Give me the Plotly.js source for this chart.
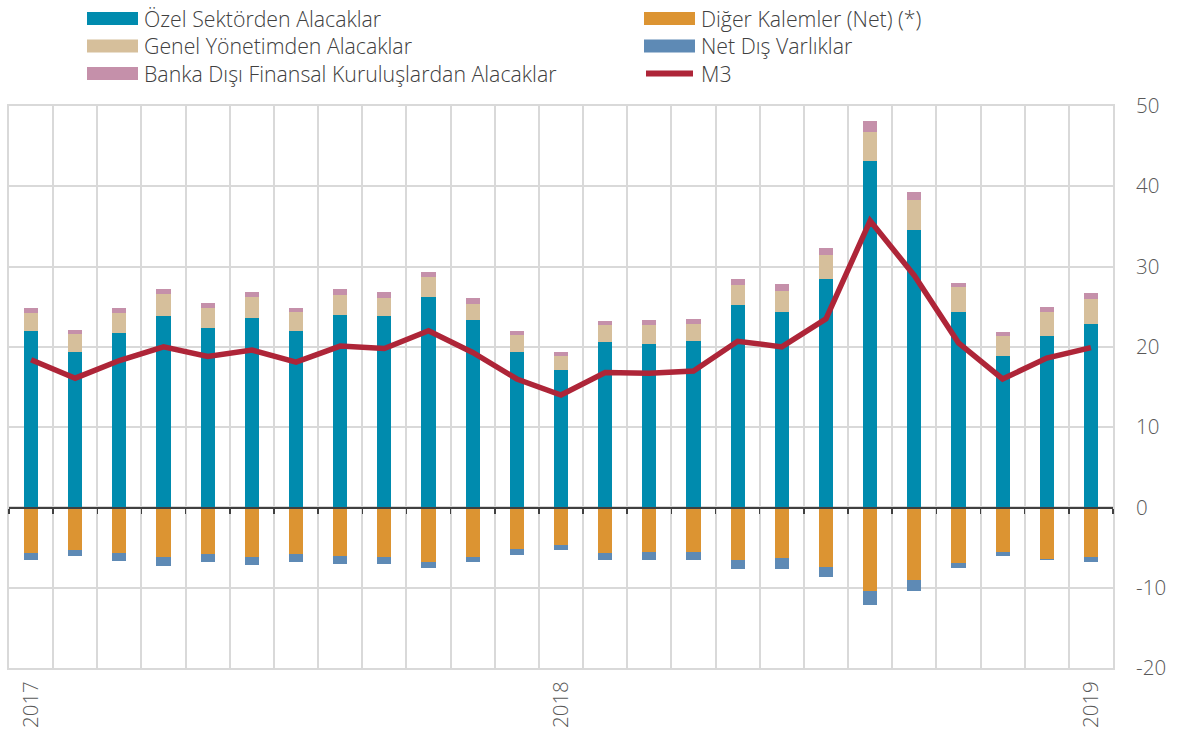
<!DOCTYPE html>
<html><head><meta charset="utf-8">
<script src="https://cdn.plot.ly/plotly-3.0.1.min.js"></script>
<style>html,body{margin:0;padding:0;background:#fff}#chart{width:1181px;height:733px}</style>
</head><body><div id="chart"></div>
<script>
const months = ['2017-01','2017-02','2017-03','2017-04','2017-05','2017-06','2017-07','2017-08','2017-09','2017-10','2017-11','2017-12',
  '2018-01','2018-02','2018-03','2018-04','2018-05','2018-06','2018-07','2018-08','2018-09','2018-10','2018-11','2018-12','2019-01'];
const tickLabels = {'2017-01':'2017','2018-01':'2018','2019-01':'2019'};
const yTickVals = [-20,-10,0,10,20,30,40,50];
const yTickText = ['-20','-10','0','10','20','30','40','50'];

const ozel  = [22.0,19.3,21.7,23.8,22.4,23.6,22.0,24.0,23.8,26.2,23.4,19.4,17.1,20.6,20.4,20.7,25.2,24.3,28.4,43.2,34.6,24.3,18.8,21.4,22.9];
const genel = [2.2,2.3,2.5,2.8,2.4,2.6,2.3,2.5,2.3,2.5,2.0,2.1,1.8,2.1,2.3,2.2,2.5,2.7,3.1,3.6,3.7,3.1,2.5,3.0,3.1];
const banka = [0.6,0.5,0.7,0.6,0.7,0.6,0.6,0.7,0.7,0.6,0.7,0.5,0.4,0.5,0.6,0.6,0.7,0.8,0.8,1.3,1.0,0.6,0.5,0.6,0.7];
const diger = [-5.7,-5.3,-5.7,-6.2,-5.8,-6.2,-5.75,-6.1,-6.2,-6.8,-6.2,-5.2,-4.7,-5.7,-5.6,-5.5,-6.5,-6.3,-7.4,-10.4,-9.1,-6.9,-5.5,-6.4,-6.2];
const netdis = [-0.8,-0.7,-1.0,-1.1,-1.0,-1.0,-1.05,-1.0,-0.8,-0.7,-0.6,-0.7,-0.6,-0.8,-0.9,-1.0,-1.2,-1.4,-1.3,-1.8,-1.3,-0.6,-0.5,-0.2,-0.55];
const m3    = [18.4,16.1,18.3,20.0,18.8,19.6,18.1,20.1,19.8,22.0,19.3,16.0,14.0,16.8,16.7,17.0,20.7,20.0,23.5,35.7,28.9,20.5,16.0,18.6,19.9];

const names = {
  ozel:'Özel Sektörden Alacaklar', genel:'Genel Yönetimden Alacaklar', banka:'Banka Dışı Finansal Kuruluşlardan Alacaklar',
  diger:'Diğer Kalemler (Net) (*)', netdis:'Net Dış Varlıklar', m3:'M3'
};
const colors = {ozel:'#008BAE', genel:'#D6BF9B', banka:'#C590AA', diger:'#DC9432', netdis:'#5E8AB5', m3:'#AE2538'};

const FONT = "'Open Sans', Lato, sans-serif";
const bw = 0.32;
function bar(key, y){ return {type:'bar', name:names[key], x:months, y:y, width:bw, marker:{color:colors[key], line:{width:0}}, hoverinfo:'y+name'}; }
const data = [
  bar('ozel', ozel), bar('diger', diger), bar('genel', genel), bar('netdis', netdis), bar('banka', banka),
  {type:'scatter', mode:'lines', name:names.m3, x:months, y:m3, xaxis:'x2', line:{color:colors.m3, width:5.5}}
];

// layout geometry (pixels)
const W=1181, H=733, mL=9, mR=68, mT=106, mB=65;
const pw = W-mL-mR, ph = H-mT-mB;
const px = v => (v-mL)/pw, py = v => (H-mB-v)/ph;

const legendItems = [
  {key:'ozel', col:0, row:0}, {key:'genel', col:0, row:1}, {key:'banka', col:0, row:2},
  {key:'diger', col:1, row:0}, {key:'netdis', col:1, row:1}, {key:'m3', col:1, row:2}
];
const colX = [87, 644], rowY = [18.5, 46, 73.5], swW = 51, swH = 13;
const shapes = [], annotations = [];
legendItems.forEach(it => {
  const x0 = colX[it.col], yc = rowY[it.row];
  if (it.key === 'm3') {
    shapes.push({type:'line', xref:'paper', yref:'paper', x0:px(x0+2), x1:px(x0+swW-2), y0:py(yc), y1:py(yc),
      line:{color:colors.m3, width:6}});
  } else {
    shapes.push({type:'rect', xref:'paper', yref:'paper', x0:px(x0), x1:px(x0+swW), y0:py(yc-swH/2), y1:py(yc+swH/2),
      line:{width:0}, fillcolor:colors[it.key]});
  }
  annotations.push({xref:'paper', yref:'paper', x:px(x0+swW+4), y:py(yc), xanchor:'left', yanchor:'middle',
    text:names[it.key], showarrow:false, font:{family:FONT, size:21.3, weight:300, color:'#404040'}});
});

const grid = '#D9D9D9';
const tf = {family:FONT, size:20.5, weight:300, color:'#595959'};
const layout = {
  width:W, height:H, margin:{l:mL, r:mR, t:mT, b:mB, pad:0},
  paper_bgcolor:'#fff', plot_bgcolor:'#fff', showlegend:false,
  barmode:'relative', bargap:0,
  font:tf,
  xaxis:{type:'category', range:[-0.5,24.5], tickmode:'array', tickvals:months, ticktext:months.map(m=>tickLabels[m]||''),
    tickson:'boundaries', ticks:'', tickangle:-90, showgrid:true, gridcolor:grid, gridwidth:2,
    showline:true, mirror:true, linecolor:grid, linewidth:2, zeroline:false, ticklabelstandoff:3, tickfont:tf},
  xaxis2:{type:'category', overlaying:'x', anchor:'free', position:2/7, range:[-0.5,24.5], tickmode:'array', tickvals:months,
    tickson:'boundaries', ticks:'outside', ticklen:5, tickwidth:1.5, tickcolor:'#404040', showticklabels:false,
    showgrid:false, showline:true, linecolor:'#404040', linewidth:1.5, zeroline:false},
  yaxis:{side:'right', range:[-20,50], tickmode:'array', tickvals:yTickVals, ticktext:yTickText, showgrid:true, gridcolor:grid, gridwidth:2,
    zeroline:false, showline:true, mirror:true, linecolor:grid, linewidth:2, ticks:'', ticklabelstandoff:17, tickfont:tf},
  shapes:shapes, annotations:annotations
};
Plotly.newPlot('chart', data, layout, {displayModeBar:false, staticPlot:true});
</script></body></html>
